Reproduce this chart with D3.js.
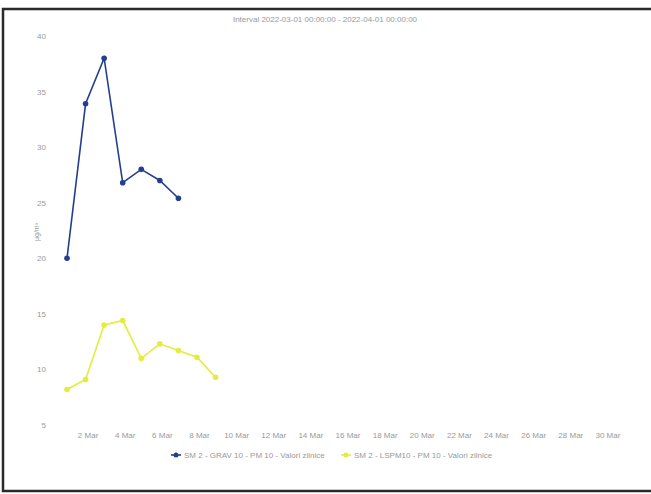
<!DOCTYPE html>
<html><head><meta charset="utf-8">
<script src="https://cdn.jsdelivr.net/npm/d3@7"></script>
<style>
html,body{margin:0;padding:0;background:#fff;}
svg{display:block;font-family:"Liberation Sans",Arial,sans-serif;}
</style></head>
<body><svg id="c" width="651" height="494"></svg>
<script>
const title = "Interval 2022-03-01 00:00:00 - 2022-04-01 00:00:00";
const yLabel = "µg/m³";
const gravDays = [1,2,3,4,5,6,7];
const gravValues = [20.0,33.9,38.0,26.8,28.0,27.0,25.4];
const lspmDays = [1,2,3,4,5,6,7,8,9];
const lspmValues = [8.2,9.1,14.0,14.4,11.0,12.3,11.7,11.1,9.3];
const seriesNames = ["SM 2 - GRAV 10 - PM 10 - Valori zilnice","SM 2 - LSPM10 - PM 10 - Valori zilnice"];
const xTickDays = [2,4,6,8,10,12,14,16,18,20,22,24,26,28,30];
const yTicks = [5,10,15,20,25,30,35,40];

const svg = d3.select("#c");
const dt = d => new Date(2022,2,d);
const x = d3.scaleTime().domain([dt(1), dt(31)]).range([67, 624]);
const y = d3.scaleLinear().domain([5,40]).range([425, 36]);

// scanned frame
svg.append("rect").attr("x",3).attr("y",9).attr("width",660).attr("height",482)
  .attr("fill","none").attr("stroke","#2a2a2a").attr("stroke-width",2.5);

svg.append("text").attr("x",325).attr("y",22).attr("text-anchor","middle")
  .attr("font-size",8).attr("fill","#999").text(title);

const ya = svg.append("g").attr("transform","translate(48,0)")
  .call(d3.axisLeft(y).tickValues(yTicks).tickSize(0).tickPadding(2));
ya.select(".domain").remove();
ya.selectAll("text").attr("font-size",8).attr("fill","#999").attr("font-family","Liberation Sans, Arial");

const xa = svg.append("g").attr("transform","translate(0,428)")
  .call(d3.axisBottom(x).tickValues(xTickDays.map(dt)).tickFormat(d3.timeFormat("%-d Mar")).tickSize(0).tickPadding(4));
xa.select(".domain").remove();
xa.selectAll("text").attr("font-size",8).attr("fill","#999").attr("font-family","Liberation Sans, Arial")
  .attr("dx", 2);

svg.append("text").attr("transform","translate(39,232) rotate(-90)").attr("text-anchor","middle")
  .attr("font-size",7).attr("fill","#999").text(yLabel);

const series = [
  {days:gravDays, vals:gravValues, color:"#243f8f", name:seriesNames[0]},
  {days:lspmDays, vals:lspmValues, color:"#e4ec3c", name:seriesNames[1]}
];
const line = d3.line().x(d=>x(dt(d[0]))).y(d=>y(d[1]));
series.forEach(s=>{
  const pts = s.days.map((d,i)=>[d,s.vals[i]]);
  svg.append("path").datum(pts).attr("d",line).attr("fill","none")
    .attr("stroke",s.color).attr("stroke-width",1.6);
  svg.selectAll(null).data(pts).enter().append("circle")
    .attr("cx",d=>x(dt(d[0]))).attr("cy",d=>y(d[1])).attr("r",2.8).attr("fill",s.color);
});

// legend
const lg = [{x:176,s:series[0]},{x:346,s:series[1]}];
lg.forEach(l=>{
  svg.append("line").attr("x1",l.x-5).attr("x2",l.x+5).attr("y1",455).attr("y2",455)
    .attr("stroke",l.s.color).attr("stroke-width",1.6);
  svg.append("circle").attr("cx",l.x).attr("cy",455).attr("r",2.5).attr("fill",l.s.color);
  svg.append("text").attr("x",l.x+8).attr("y",458).attr("font-size",8).attr("fill","#999").text(l.s.name);
});
</script></body></html>
